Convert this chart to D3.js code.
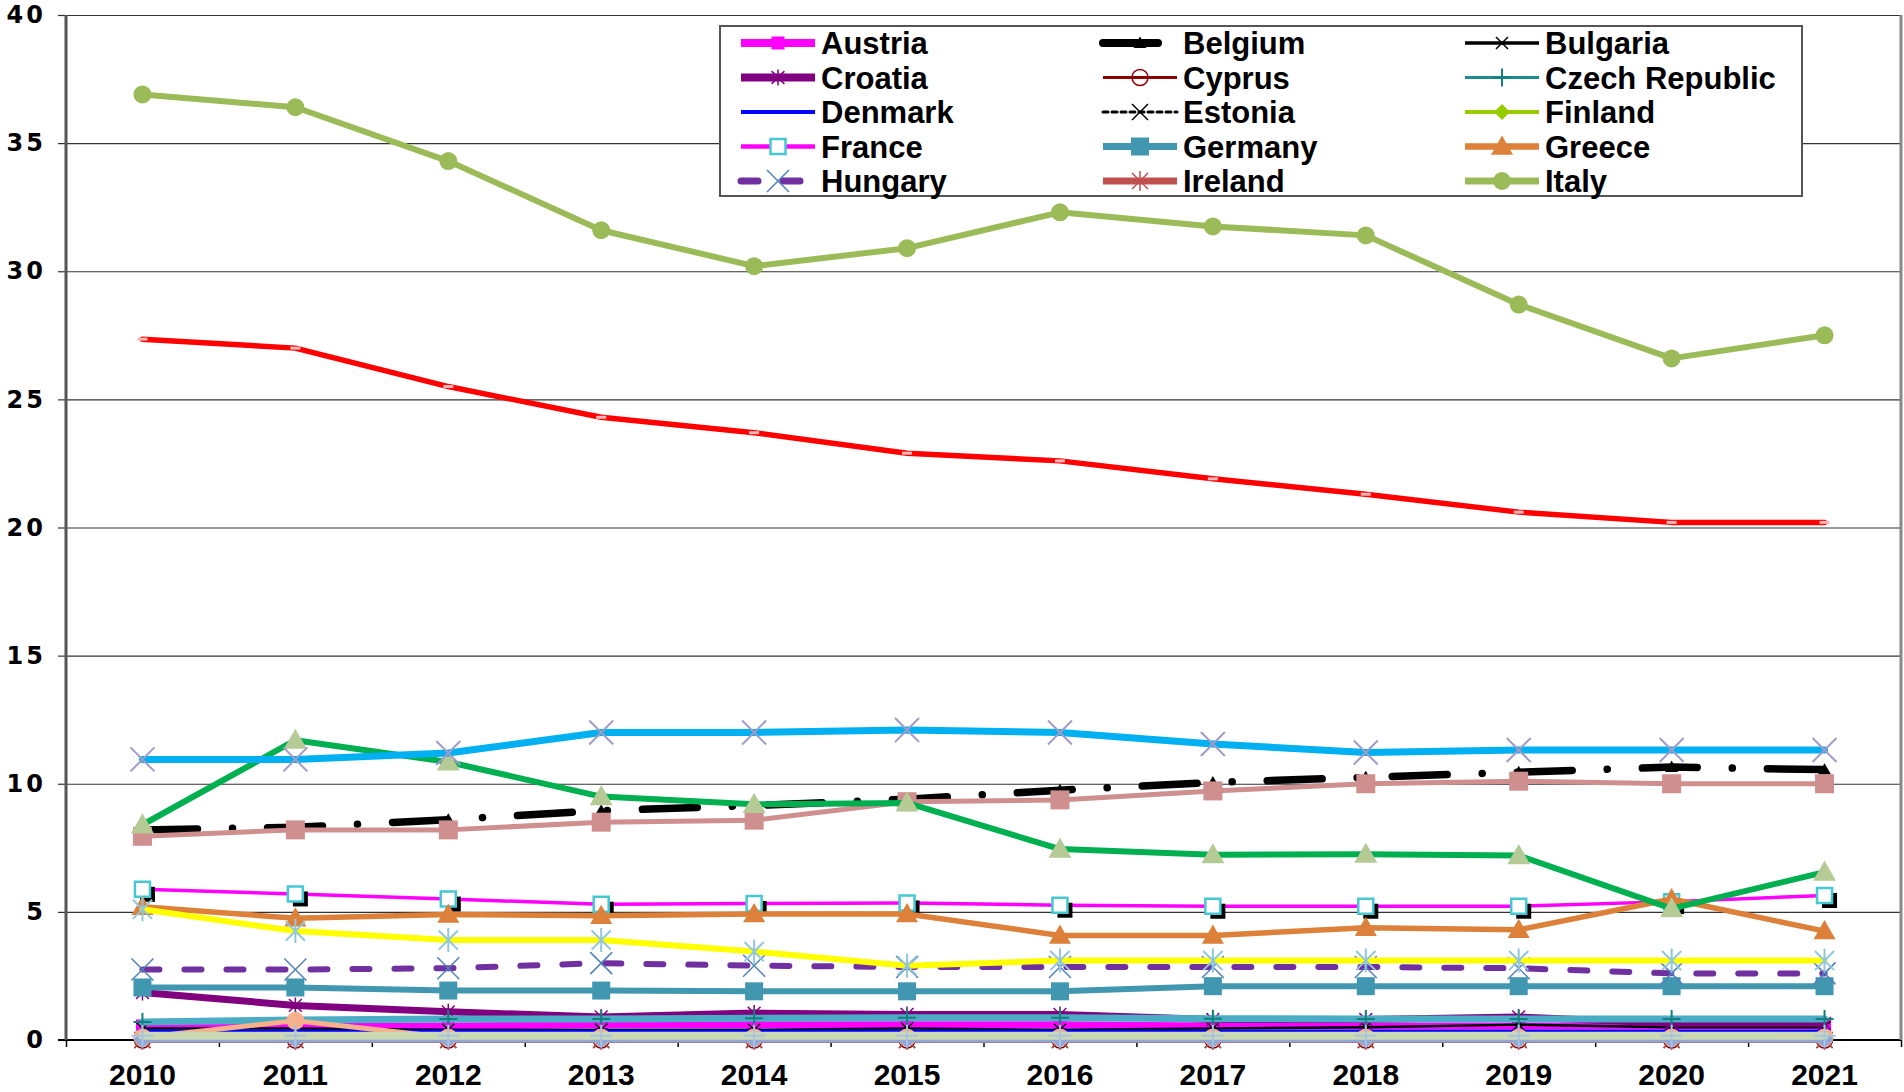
<!DOCTYPE html>
<html>
<head>
<meta charset="utf-8">
<script src="https://cdn.jsdelivr.net/npm/d3@7"></script>
<style>
  body { margin: 0; background: #fff; }
  svg { display: block; }
  .ylab text { font-family: "DejaVu Sans", sans-serif; font-weight: bold; font-size: 24px; letter-spacing: 3px; fill: #000; }
  .xlab text { font-family: "Liberation Sans", Arial, sans-serif; font-weight: bold; font-size: 30px; fill: #000; }
  .legend text { font-family: "Liberation Sans", Arial, sans-serif; font-weight: bold; font-size: 31px; fill: #000; }
</style>
</head>
<body>
<script>
//categories and tick labels
var years = [2010, 2011, 2012, 2013, 2014, 2015, 2016, 2017, 2018, 2019, 2020, 2021];
var yTicks = [0, 5, 10, 15, 20, 25, 30, 35, 40];

//series names, in drawing order (the first 15 are in the legend)
var seriesNames = ["Austria", "Belgium", "Bulgaria", "Croatia", "Cyprus", "Czech Republic",
    "Denmark", "Estonia", "Finland", "France", "Germany", "Greece", "Hungary", "Ireland", "Italy",
    "Latvia", "Lithuania", "Luxembourg", "Netherlands", "Poland", "Portugal", "Romania", "Spain"];

//series values
var austria     = [0.55, 0.55, 0.55, 0.6, 0.6, 0.6, 0.6, 0.55, 0.55, 0.55, 0.55, 0.55];
var belgium     = [8.2, 8.3, 8.6, 8.95, 9.15, 9.4, 9.75, 10.05, 10.25, 10.45, 10.65, 10.55];
var bulgaria    = [0.45, 0.45, 0.4, 0.4, 0.4, 0.45, 0.4, 0.45, 0.5, 0.6, 0.5, 0.5];
var croatia     = [1.85, 1.35, 1.1, 0.9, 1.05, 1.0, 1.0, 0.8, 0.8, 0.9, 0.65, 0.65];
var cyprus      = [0, 0, 0, 0, 0, 0, 0, 0, 0, 0, 0, 0];
var czech       = [0.7, 0.78, 0.82, 0.82, 0.85, 0.87, 0.87, 0.83, 0.82, 0.82, 0.82, 0.82];
var denmark     = [0.35, 0.35, 0.35, 0.35, 0.35, 0.35, 0.35, 0.35, 0.35, 0.35, 0.35, 0.35];
var estonia     = [0, 0, 0, 0, 0, 0, 0, 0, 0, 0, 0, 0];
var finland     = [0.1, 0.1, 0.1, 0.1, 0.1, 0.1, 0.1, 0.1, 0.1, 0.1, 0.1, 0.1];
var france      = [5.88, 5.7, 5.5, 5.3, 5.33, 5.35, 5.26, 5.22, 5.22, 5.22, 5.4, 5.64];
var germany     = [2.05, 2.05, 1.93, 1.93, 1.9, 1.9, 1.9, 2.1, 2.1, 2.1, 2.1, 2.1];
var greece      = [5.2, 4.75, 4.9, 4.85, 4.92, 4.92, 4.08, 4.08, 4.38, 4.3, 5.5, 4.25];
var hungary     = [2.75, 2.75, 2.8, 3.0, 2.9, 2.85, 2.85, 2.85, 2.85, 2.8, 2.6, 2.6];
var ireland     = [0, 0, 0, 0, 0, 0, 0, 0, 0, 0, 0, 0];
var italy       = [36.9, 36.4, 34.3, 31.6, 30.2, 30.9, 32.3, 31.75, 31.4, 28.7, 26.6, 27.5];
var latvia      = [0.1, 0.75, 0.1, 0.1, 0.1, 0.1, 0.1, 0.1, 0.1, 0.1, 0.1, 0.1];
var lithuania   = [0.02, 0.02, 0.02, 0.02, 0.02, 0.02, 0.02, 0.02, 0.02, 0.02, 0.02, 0.02];
var luxembourg  = [0.17, 0.17, 0.17, 0.17, 0.17, 0.17, 0.17, 0.17, 0.17, 0.17, 0.17, 0.17];
var netherlands = [7.95, 8.2, 8.2, 8.5, 8.58, 9.3, 9.37, 9.72, 10.0, 10.1, 10.0, 10.0];
var poland      = [27.35, 27.0, 25.5, 24.3, 23.7, 22.9, 22.6, 21.9, 21.3, 20.6, 20.2, 20.2];
var portugal    = [8.4, 11.7, 10.85, 9.5, 9.2, 9.25, 7.45, 7.23, 7.25, 7.2, 5.13, 6.55];
var romania     = [10.95, 10.95, 11.2, 12.0, 12.0, 12.1, 12.0, 11.55, 11.22, 11.32, 11.32, 11.32];
var spain       = [5.1, 4.25, 3.9, 3.9, 3.45, 2.9, 3.1, 3.1, 3.1, 3.1, 3.1, 3.1];

var seriesValues = [austria, belgium, bulgaria, croatia, cyprus, czech, denmark, estonia, finland,
    france, germany, greece, hungary, ireland, italy, latvia, lithuania, luxembourg, netherlands,
    poland, portugal, romania, spain];

//line and marker styles, per series
var styles = {
    "Austria":        {color: "#FF00FF", width: 7, marker: "square",   ms: 13, mfill: "#FF00FF", mstroke: "none"},
    "Belgium":        {color: "#000000", width: 7.5, dash: "55 35 0.1 35", marker: "triangle", ms: 13, mfill: "#000", mstroke: "none"},
    "Bulgaria":       {color: "#000000", width: 2.5, marker: "times",  ms: 12, mfill: "none", mstroke: "#000", mw: 1.5},
    "Croatia":        {color: "#800080", width: 7, marker: "star",     ms: 16, mfill: "none", mstroke: "#800080", mw: 1.5},
    "Cyprus":         {color: "#8B0000", width: 2, marker: "circle",   ms: 16, mfill: "none", mstroke: "#8B0000", mw: 1.5},
    "Czech Republic": {color: "#4BACC6", width: 7, marker: "plus",     ms: 18, mfill: "none", mstroke: "#13807F", mw: 2, legendColor: "#1E8C8C", legendWidth: 3},
    "Denmark":        {color: "#0000FF", width: 3, marker: "dash",     ms: 10, mfill: "none", mstroke: "#0000FF", mw: 4},
    "Estonia":        {color: "#000000", width: 2, dash: "5 4", marker: "times", ms: 16, mfill: "none", mstroke: "#000", mw: 1.5},
    "Finland":        {color: "#99CC00", width: 3, marker: "diamond",  ms: 16, mfill: "#99CC00", mstroke: "none"},
    "France":         {color: "#FF00FF", width: 3.5, marker: "square", ms: 15, mfill: "#fff", mstroke: "#46C8D2", mw: 2.5, shadow: true},
    "Germany":        {color: "#4197B0", width: 6, marker: "square",   ms: 18, mfill: "#4197B0", mstroke: "none"},
    "Greece":         {color: "#DD8039", width: 5.5, marker: "triangle", ms: 22, mfill: "#DD8039", mstroke: "none"},
    "Hungary":        {color: "#7030A0", width: 6, dash: "17 25", marker: "times", ms: 22, mfill: "none", mstroke: "#4F81BD", mw: 1.5},
    "Ireland":        {color: "#C0504D", width: 6, marker: "star",     ms: 20, mfill: "none", mstroke: "#C0504D", mw: 1.5},
    "Italy":          {color: "#9BBB59", width: 6, marker: "circle",   ms: 18, mfill: "#9BBB59", mstroke: "none"},
    "Latvia":         {color: "#F5B08C", width: 5, marker: "circle",   ms: 18, mfill: "#F5B08C", mstroke: "none"},
    "Lithuania":      {color: "#8FA8D8", width: 6, marker: "diamond",  ms: 18, mfill: "#8FA8D8", mstroke: "none"},
    "Luxembourg":     {color: "#CAD9B4", width: 8, marker: "plus",     ms: 22, mfill: "none", mstroke: "#A9C3E0", mw: 2},
    "Netherlands":    {color: "#CF8F8F", width: 5, marker: "square",   ms: 19, mfill: "#CF8F8F", mstroke: "none"},
    "Poland":         {color: "#FF0000", width: 5.5, marker: "dash",   ms: 10, mfill: "none", mstroke: "#F4B6B6", mw: 3},
    "Portugal":       {color: "#00B050", width: 6, marker: "triangle", ms: 23, mfill: "#B5CA94", mstroke: "none"},
    "Romania":        {color: "#00B0F0", width: 7, marker: "times",    ms: 24, mfill: "none", mstroke: "#A49AC8", mw: 2},
    "Spain":          {color: "#FFFF00", width: 6, marker: "star",     ms: 24, mfill: "none", mstroke: "#92C6DD", mw: 2}
};

//page and plot frame
var width = 1904,
    height = 1092;
var margin = {left: 66, right: 1901, top: 15, bottom: 1040};

var svg = d3.select("body")
    .append("svg")
    .attr("width", width)
    .attr("height", height);

//scales
var x = d3.scaleBand()
    .domain(years)
    .range([margin.left, margin.right]);
var xEdge = d3.scaleLinear()
    .domain([0, years.length])
    .range([margin.left, margin.right]);
var y = d3.scaleLinear()
    .domain([0, 40])
    .range([margin.bottom, margin.top]);

function cx(d, i){ return x(years[i]) + x.bandwidth() / 2; }

//marker shapes
function markerPath(type, s){
    var h = s / 2;
    if (type == "square") return "M" + (-h) + "," + (-h) + "H" + h + "V" + h + "H" + (-h) + "Z";
    if (type == "triangle") return "M0," + (-h) + "L" + h + "," + (h * 0.75) + "H" + (-h) + "Z";
    if (type == "diamond") return "M0," + (-h) + "L" + h + ",0L0," + h + "L" + (-h) + ",0Z";
    if (type == "circle") return d3.symbol().type(d3.symbolCircle).size(Math.PI * h * h)();
    if (type == "times") return "M" + (-h) + "," + (-h) + "L" + h + "," + h + "M" + (-h) + "," + h + "L" + h + "," + (-h);
    if (type == "plus") return "M0," + (-h) + "V" + h + "M" + (-h) + ",0H" + h;
    if (type == "star") return "M" + (-h * 0.8) + "," + (-h * 0.8) + "L" + (h * 0.8) + "," + (h * 0.8) +
        "M" + (-h * 0.8) + "," + (h * 0.8) + "L" + (h * 0.8) + "," + (-h * 0.8) + "M0," + (-h) + "V" + h;
    if (type == "dash") return "M" + (-h) + ",0H" + h;
    return "";
}

//gridlines
svg.append("g")
    .attr("class", "grid")
    .attr("transform", "translate(" + margin.left + ",0)")
    .call(d3.axisLeft(y).tickValues(yTicks).tickSize(-(margin.right - margin.left)).tickFormat(""))
    .call(function(g){
        g.select(".domain").remove();
        g.selectAll("line").attr("stroke", "#333").attr("stroke-width", 1.2);
    });

//y axis labels and ticks
svg.append("g")
    .attr("class", "ylab")
    .attr("transform", "translate(" + margin.left + ",0)")
    .call(d3.axisLeft(y).tickValues(yTicks).tickSize(8).tickPadding(12))
    .call(function(g){
        g.select(".domain").remove();
        g.selectAll("line").attr("stroke", "#333").attr("stroke-width", 1.2);
        g.selectAll("text").attr("font-size", null).attr("font-family", null);
    });

//x axis line, ticks at band edges and labels
svg.append("line")
    .attr("x1", margin.left - 8).attr("x2", margin.right)
    .attr("y1", margin.bottom).attr("y2", margin.bottom)
    .attr("stroke", "#000").attr("stroke-width", 2);

svg.append("g")
    .attr("transform", "translate(0," + margin.bottom + ")")
    .call(d3.axisBottom(xEdge).tickValues(d3.range(years.length + 1)).tickSize(7).tickFormat(""))
    .call(function(g){
        g.select(".domain").remove();
        g.selectAll("line").attr("stroke", "#000").attr("stroke-width", 1.5);
    });

svg.append("g")
    .attr("class", "xlab")
    .attr("transform", "translate(0," + margin.bottom + ")")
    .call(d3.axisBottom(x).tickSize(0))
    .call(function(g){
        g.select(".domain").remove();
        g.selectAll("text").attr("font-size", null).attr("font-family", null)
            .attr("y", 45).attr("dy", 0);
    });

//left and right frame
svg.append("line")
    .attr("x1", margin.left).attr("x2", margin.left)
    .attr("y1", margin.top).attr("y2", margin.bottom)
    .attr("stroke", "#555").attr("stroke-width", 3);
svg.append("line")
    .attr("x1", margin.right).attr("x2", margin.right)
    .attr("y1", margin.top).attr("y2", margin.bottom)
    .attr("stroke", "#888").attr("stroke-width", 3);

//series
var line = d3.line()
    .x(cx)
    .y(function(d){ return y(d); });

function drawMarker(sel, st){
    sel.attr("d", markerPath(st.marker, st.ms))
        .attr("fill", st.mfill)
        .attr("stroke", st.mstroke)
        .attr("stroke-width", st.mw || 0)
        .attr("stroke-linejoin", "miter");
}

seriesNames.forEach(function(name, k){
    var st = styles[name],
        vals = seriesValues[k];
    var g = svg.append("g").attr("class", "series");

    g.append("path")
        .datum(vals)
        .attr("d", line)
        .attr("fill", "none")
        .attr("stroke", st.color)
        .attr("stroke-width", st.width)
        .attr("stroke-linejoin", "round")
        .attr("stroke-linecap", "round")
        .attr("stroke-dasharray", st.dash || null);

    if (st.shadow){
        g.selectAll(".shadow")
            .data(vals)
            .enter()
            .append("path")
            .attr("class", "shadow")
            .attr("d", markerPath(st.marker, st.ms))
            .attr("fill", "#000")
            .attr("transform", function(d, i){ return "translate(" + (cx(d, i) + 5) + "," + (y(d) + 5) + ")"; });
    }

    g.selectAll(".marker")
        .data(vals)
        .enter()
        .append("path")
        .attr("class", "marker")
        .call(drawMarker, st)
        .attr("transform", function(d, i){ return "translate(" + cx(d, i) + "," + y(d) + ")"; });
});

//legend (first 15 series, 3 columns)
var legendNames = seriesNames.slice(0, 15);
var legend = svg.append("g").attr("class", "legend");

legend.append("rect")
    .attr("x", 720).attr("y", 26)
    .attr("width", 1082).attr("height", 170)
    .attr("fill", "#fff")
    .attr("stroke", "#555")
    .attr("stroke-width", 2);

var items = legend.selectAll(".item")
    .data(legendNames)
    .enter()
    .append("g")
    .attr("class", "item")
    .attr("transform", function(d, i){
        return "translate(" + (741 + (i % 3) * 362) + "," + (43 + Math.floor(i / 3) * 34.5) + ")";
    });

items.append("line")
    .attr("x1", 0).attr("x2", 74)
    .attr("stroke", function(d){ return styles[d].legendColor || styles[d].color; })
    .attr("stroke-width", function(d){ return styles[d].legendWidth || Math.min(styles[d].width + 1, 8); })
    .attr("stroke-linecap", function(d){ return styles[d].dash ? "round" : "butt"; })
    .attr("stroke-dasharray", function(d){ return styles[d].dash || null; });

items.each(function(d){
    var st = styles[d],
        g = d3.select(this);
    g.append("path")
        .call(drawMarker, st)
        .attr("transform", "translate(37,0)");
});

items.append("text")
    .attr("x", 80)
    .attr("dy", "0.36em")
    .text(function(d){ return d; });
</script>
</body>
</html>
